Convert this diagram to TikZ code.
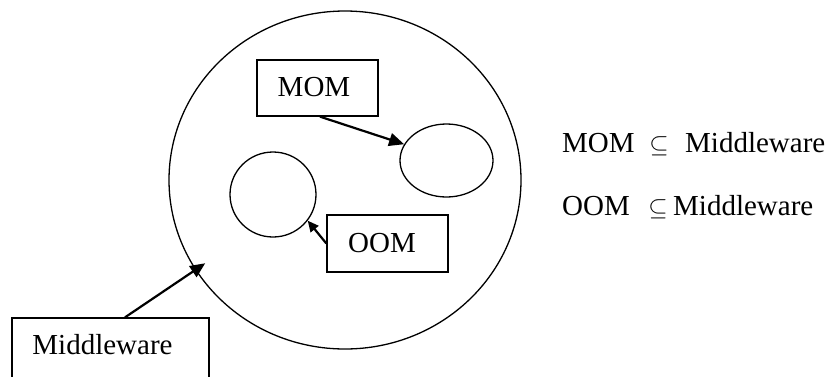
\documentclass[tikz,border=0pt]{standalone}
\usepackage{fontspec}
\setmainfont{Liberation Serif}
\usetikzlibrary{shapes.geometric,arrows.meta,calc}
\tikzset{
  txt/.style={font=\fontsize{29}{35}\selectfont, inner sep=0pt},
  box/.style={draw, line width=1.3pt, inner sep=0pt},
  oval/.style={draw, ellipse, line width=1.3pt, inner sep=0pt},
  arr/.style={line width=2.2pt, -{Triangle[length=15pt,width=13pt]}},
  sarr/.style={line width=2.2pt, -{Triangle[length=11pt,width=10pt]}}
}
\begin{document}
\begin{tikzpicture}[x=1pt,y=-1pt]
\useasboundingbox (0,0) rectangle (831,376);
% big circle
\node[oval, minimum width=352pt, minimum height=338pt] (big) at (345,180) {};
% inner shapes
\node[oval, minimum width=93pt, minimum height=73pt] (e1) at (446.5,160.5) {};
\node[oval, minimum width=86pt, minimum height=85pt] (c2) at (273,194.5) {};
% boxes
\node[box, minimum width=121pt, minimum height=56pt] (mom) at (317.5,88) {};
\node[txt, anchor=base] (momt) at (314,96) {MOM};
\node[box, minimum width=121pt, minimum height=57pt] (oom) at (387.5,243.5) {};
\node[txt, anchor=base] (oomt) at (382,252) {OOM};
\node[box, minimum width=197pt, minimum height=72pt] (mw) at (110.5,354) {};
\node[txt, anchor=base] (mwt) at (102.5,354) {Middleware};
% arrows
\draw[arr] ($(mom.south)+(2.5,0)$) -- (e1.159);
\draw[sarr] (oom.west) -- (c2.-37);
\draw[arr, shorten >=-12pt] ($(mw.north)+(14.5,0)$) -- (big.211);
% relations
\node[txt, anchor=base west] (r1a) at (562,152) {MOM};
\node[txt, anchor=base] (r1b) at (659,152) {$\subseteq$};
\node[txt, anchor=base west] (r1c) at (685,152) {Middleware};
\node[txt, anchor=base west] (r2a) at (562,215) {OOM};
\node[txt, anchor=base] (r2b) at (658,215) {$\subseteq$};
\node[txt, anchor=base west] (r2c) at (673,215) {Middleware};
\end{tikzpicture}
\end{document}
